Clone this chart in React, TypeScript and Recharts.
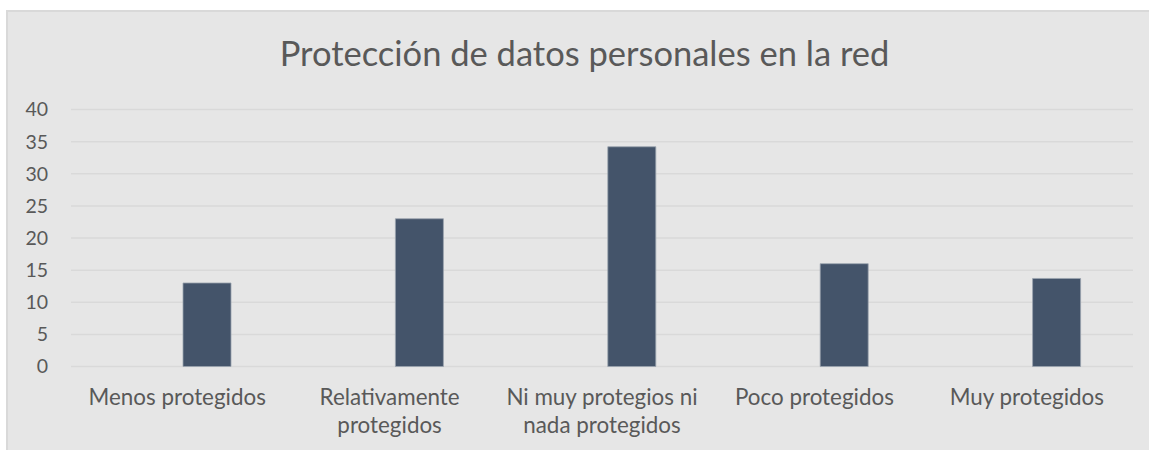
import React from 'react';
import { BarChart, Bar, XAxis, YAxis, CartesianGrid } from 'recharts';

// values
const categories = [
  'Menos protegidos',
  'Relativamente protegidos',
  'Ni muy protegios ni nada protegidos',
  'Poco protegidos',
  'Muy protegidos',
];
const categoryLines = [
  ['Menos protegidos'],
  ['Relativamente', 'protegidos'],
  ['Ni muy protegios ni', 'nada protegidos'],
  ['Poco protegidos'],
  ['Muy protegidos'],
];
const values = [13, 23, 34.2, 16, 13.7];
const yTicks = [0, 5, 10, 15, 20, 25, 30, 35, 40];
const title = 'Protección de datos personales en la red';

const data = categories.map((name, i) => ({ name, value: values[i] }));

const FONT = 'Lato, "Open Sans", sans-serif';
const TEXT = '#595959';

function CategoryTick(props: any) {
  const { x, y, payload } = props;
  const idx = categories.indexOf(payload.value);
  const lines = categoryLines[idx] || [payload.value];
  return (
    <text x={x} y={y + 38.5} textAnchor="middle" fill={TEXT} fontSize={22.4} fontFamily={FONT}>
      {lines.map((line, i) => (
        <tspan key={i} x={x} dy={i === 0 ? 0 : 28}>
          {line}
        </tspan>
      ))}
    </text>
  );
}

export default function App() {
  return (
    <div style={{ position: 'absolute', left: 0, top: 0, width: 1149, height: 450, overflow: 'hidden', background: '#fff' }}>
      {/* chart area frame, runs off the right and bottom edges */}
      <div
        style={{
          position: 'absolute',
          left: 6,
          top: 10,
          width: 1160,
          height: 460,
          background: '#e6e6e6',
          borderLeft: '2px solid #d9d9d9',
          borderTop: '2px solid #d9d9d9',
        }}
      />
      <div style={{ position: 'absolute', left: 0, top: 0 }}>
        <BarChart
          width={1149}
          height={450}
          data={data}
          margin={{ top: 109.5, right: 16, bottom: 53.5, left: 0 }}
          barGap={12}
        >
          <CartesianGrid vertical={false} stroke="#d9d9d9" strokeWidth={1.5} />
          <XAxis
            dataKey="name"
            axisLine={false}
            tickLine={false}
            tickSize={0}
            tickMargin={0}
            height={30}
            interval={0}
            tick={<CategoryTick />}
          />
          <YAxis
            width={71}
            domain={[0, 40]}
            ticks={yTicks}
            axisLine={false}
            tickLine={false}
            tickSize={0}
            tickMargin={23}
            tick={{ fill: TEXT, fontSize: 19.5, fontFamily: FONT }}
          />
          {/* empty first series keeps the bar shifted right, as in the original */}
          <Bar dataKey="blank" barSize={48} fill="none" isAnimationActive={false} />
          <Bar dataKey="value" barSize={48} fill="#44546a" stroke="#9ba3ae" strokeWidth={0.8} isAnimationActive={false} />
        </BarChart>
      </div>
      <svg width={1149} height={450} style={{ position: 'absolute', left: 0, top: 0, pointerEvents: 'none' }}>
        <text x={584.5} y={65.7} textAnchor="middle" fill={TEXT} fontSize={34.5} fontFamily={FONT}>
          {title}
        </text>
      </svg>
    </div>
  );
}
